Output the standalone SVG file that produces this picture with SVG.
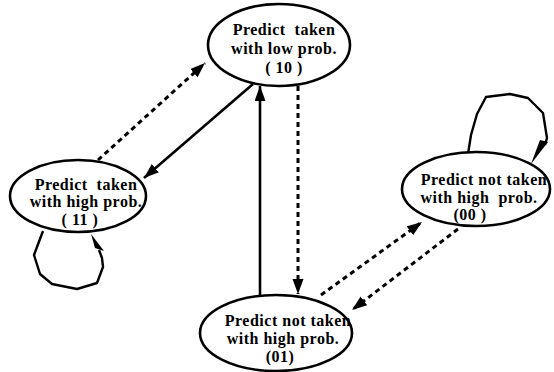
<svg xmlns="http://www.w3.org/2000/svg" width="554" height="372" viewBox="0 0 554 372">
<style>
.node ellipse{fill:#fff;stroke:#000;stroke-width:2.6}
.node text{font-family:"Liberation Serif","Times New Roman",serif;font-weight:bold;font-size:16px;letter-spacing:0.5px;fill:#000;text-anchor:middle;white-space:pre}
.solid{fill:none;stroke:#000;stroke-width:2.6}
.dash{fill:none;stroke:#000;stroke-width:3;stroke-dasharray:5 4}
.loop{fill:none;stroke:#000;stroke-width:2.4;stroke-linejoin:round}
</style>
<defs>
<marker id="ah" markerUnits="userSpaceOnUse" markerWidth="16" markerHeight="12" refX="15" refY="5.5" orient="auto">
<path d="M0,0 L15,5.5 L0,11 Z" fill="#000" stroke="none"/>
</marker>
</defs>
<rect width="554" height="372" fill="#fff"/>
<g id="connectors">
<line class="dash" x1="98" y1="160" x2="205" y2="63" marker-end="url(#ah)"/>
<line class="solid" x1="253" y1="84" x2="144" y2="178" marker-end="url(#ah)"/>
<line class="solid" x1="260" y1="295" x2="260" y2="86" marker-end="url(#ah)"/>
<line class="dash" x1="298" y1="86" x2="298" y2="294" marker-end="url(#ah)"/>
<line class="dash" x1="321" y1="295" x2="422" y2="222" marker-end="url(#ah)"/>
<line class="dash" x1="458" y1="229" x2="352" y2="310" marker-end="url(#ah)"/>
<path class="loop" d="M43,231 L34,255 L40,274 L52,284 L77,289 L97,283 L103,267 L102,258 L99,250"/>
<path d="M104,251 L95,248 L91,234 Z" fill="#000"/>
<path class="loop" d="M468,154 L471,135 L477,114 L486,97 L510,94 L528,98 L543,113 L547,138 L545,145"/>
<path d="M548,142 L540,140 L531,164 Z" fill="#000"/>
</g>
<g id="n10" class="node">
<ellipse cx="279" cy="45" rx="71" ry="41"/>
<text x="284" y="35">Predict  taken</text>
<text x="284" y="54">with low prob.</text>
<text x="284" y="73">( 10 )</text>
</g>
<g id="n11" class="node">
<ellipse cx="78" cy="196" rx="68" ry="36"/>
<text x="86" y="190">Predict  taken</text>
<text x="86" y="207">with high prob.</text>
<text x="80" y="225">( 11 )</text>
</g>
<g id="n00" class="node">
<ellipse cx="476" cy="189" rx="74" ry="37"/>
<text x="484" y="185">Predict not taken</text>
<text x="479" y="203">with high  prob.</text>
<text x="470" y="220">(00 )</text>
</g>
<g id="n01" class="node">
<ellipse cx="276" cy="333" rx="76" ry="38"/>
<text x="288" y="326">Predict not taken</text>
<text x="283" y="344">with high prob.</text>
<text x="280" y="362">(01)</text>
</g>
</svg>
